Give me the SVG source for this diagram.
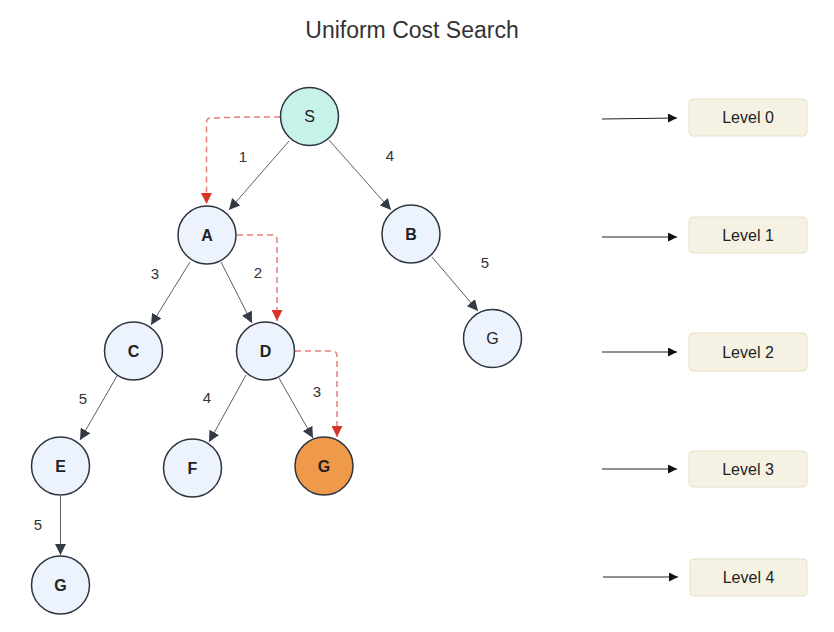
<svg xmlns="http://www.w3.org/2000/svg" width="834" height="632" viewBox="0 0 834 632">
<defs>
<style>
.node circle{fill:#edf3fd;stroke:#2d3440;stroke-width:1.5}
.lbl{font-family:"Liberation Sans",Arial,sans-serif;font-size:16px;fill:#222;text-anchor:middle;dominant-baseline:central}
.b{font-weight:bold}
.edge{stroke:#5a5e66;stroke-width:1;fill:none}
.path{stroke:#e5817b;stroke-width:1.5;fill:none;stroke-dasharray:6 4}
.lvl{stroke:#222;stroke-width:1;fill:none}
.w{font-family:"Liberation Sans",Arial,sans-serif;font-size:15px;fill:#333;text-anchor:middle;dominant-baseline:central}
.box rect{fill:#f5f2e4;stroke:#e6e0c6;stroke-width:1}
</style>
<marker id="ah" viewBox="0 0 10 10" refX="10" refY="5" markerWidth="11" markerHeight="11" markerUnits="userSpaceOnUse" orient="auto"><path d="M0,0 L10,5 L0,10 Z" fill="#343a46"/></marker>
<marker id="rh" viewBox="0 0 10 10" refX="10" refY="5" markerWidth="11" markerHeight="11" markerUnits="userSpaceOnUse" orient="auto"><path d="M0,0 L10,5 L0,10 Z" fill="#d9342a"/></marker>
<marker id="kh" viewBox="0 0 10 10" refX="10" refY="5" markerWidth="12" markerHeight="9" markerUnits="userSpaceOnUse" orient="auto"><path d="M0,0 L10,5 L0,10 Z" fill="#111"/></marker>
</defs>
<rect width="834" height="632" fill="#fff"/>
<text x="412" y="30" font-family="'Liberation Sans',Arial,sans-serif" font-size="23" fill="#333" text-anchor="middle" dominant-baseline="central">Uniform Cost Search</text>
<g id="connectors">
<line class="edge" x1="289" y1="141" x2="229" y2="210" marker-end="url(#ah)"/>
<line class="edge" x1="329" y1="140" x2="391" y2="210" marker-end="url(#ah)"/>
<line class="edge" x1="190" y1="262" x2="151" y2="325" marker-end="url(#ah)"/>
<line class="edge" x1="221" y1="262" x2="252" y2="323" marker-end="url(#ah)"/>
<line class="edge" x1="246" y1="375" x2="209" y2="442" marker-end="url(#ah)"/>
<line class="edge" x1="279" y1="378" x2="313" y2="438" marker-end="url(#ah)"/>
<line class="edge" x1="117" y1="376" x2="80" y2="440" marker-end="url(#ah)"/>
<line class="edge" x1="60.5" y1="496" x2="60.5" y2="555" marker-end="url(#ah)"/>
<line class="edge" x1="432" y1="257" x2="478" y2="311" marker-end="url(#ah)"/>
<path class="path" d="M280,117 L243,117 L211,118 Q206.5,118 206.5,123 L206.5,204" marker-end="url(#rh)"/>
<path class="path" d="M237,235 L272,235 Q277,235 277,240 L277,321" marker-end="url(#rh)"/>
<path class="path" d="M295,351 L332,351 Q337,351 337,356 L337,437" marker-end="url(#rh)"/>
<line class="lvl" x1="602" y1="119" x2="677" y2="118" marker-end="url(#kh)"/>
<line class="lvl" x1="602" y1="237" x2="677" y2="237" marker-end="url(#kh)"/>
<line class="lvl" x1="602" y1="352" x2="677" y2="352" marker-end="url(#kh)"/>
<line class="lvl" x1="602" y1="469" x2="677" y2="469" marker-end="url(#kh)"/>
<line class="lvl" x1="603" y1="577" x2="678" y2="577" marker-end="url(#kh)"/>
<text class="w" x="243" y="156">1</text>
<text class="w" x="390" y="155">4</text>
<text class="w" x="155" y="273">3</text>
<text class="w" x="258" y="272">2</text>
<text class="w" x="485" y="262">5</text>
<text class="w" x="83" y="398">5</text>
<text class="w" x="207" y="397">4</text>
<text class="w" x="317" y="391">3</text>
<text class="w" x="38" y="524">5</text>
</g>
<g id="node-S" class="node"><circle cx="309.5" cy="116.5" r="29" style="fill:#c6f2ea"/><text class="lbl" x="309.5" y="116.5">S</text></g>
<g id="node-A" class="node"><circle cx="207" cy="235" r="29"/><text class="lbl b" x="207" y="235">A</text></g>
<g id="node-B" class="node"><circle cx="411" cy="234" r="29"/><text class="lbl b" x="411" y="234">B</text></g>
<g id="node-C" class="node"><circle cx="133.5" cy="351" r="29"/><text class="lbl b" x="133.5" y="351">C</text></g>
<g id="node-D" class="node"><circle cx="265.5" cy="351" r="29"/><text class="lbl b" x="265.5" y="351">D</text></g>
<g id="node-G1" class="node"><circle cx="492.5" cy="338.5" r="29"/><text class="lbl" x="492.5" y="338.5">G</text></g>
<g id="node-E" class="node"><circle cx="60.5" cy="466" r="29"/><text class="lbl b" x="60.5" y="466">E</text></g>
<g id="node-F" class="node"><circle cx="192.5" cy="468" r="29"/><text class="lbl b" x="192.5" y="468">F</text></g>
<g id="node-G2" class="node"><circle cx="324" cy="466" r="29" style="fill:#ee9a4a"/><text class="lbl b" x="324" y="466">G</text></g>
<g id="node-G3" class="node"><circle cx="60.5" cy="585" r="29"/><text class="lbl b" x="60.5" y="585">G</text></g>
<g id="level-0" class="box"><rect x="689" y="99" width="118" height="37" rx="4"/><text class="lbl" x="748" y="117.5">Level 0</text></g>
<g id="level-1" class="box"><rect x="689" y="217" width="118" height="36" rx="4"/><text class="lbl" x="748" y="235">Level 1</text></g>
<g id="level-2" class="box"><rect x="689" y="333" width="118" height="38" rx="4"/><text class="lbl" x="748" y="352">Level 2</text></g>
<g id="level-3" class="box"><rect x="689" y="451" width="118" height="36" rx="4"/><text class="lbl" x="748" y="469">Level 3</text></g>
<g id="level-4" class="box"><rect x="690" y="559" width="117" height="37" rx="4"/><text class="lbl" x="748.5" y="577.5">Level 4</text></g>
</svg>
